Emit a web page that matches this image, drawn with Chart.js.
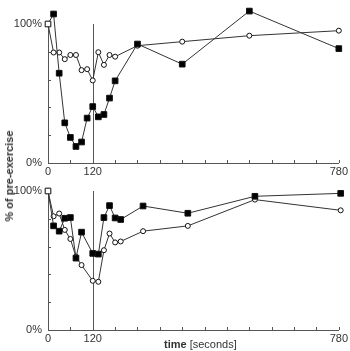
<!DOCTYPE html>
<html>
<head>
<meta charset="utf-8">
<script src="https://cdn.jsdelivr.net/npm/chart.js@4"></script>
<style>
    body { margin: 0; background: #fff; }
    #wrap { position: relative; width: 350px; height: 351px; font-family: 'Liberation Sans', Arial, sans-serif; color: #333; }
    canvas { position: absolute; left: 0; }
    #topChart { top: 0; }
    #bottomChart { top: 167px; }
    #yTitle { position: absolute; left: 9px; top: 176px; transform: translate(-50%, -50%) rotate(-90deg); white-space: nowrap; font-size: 11px; font-weight: bold; }
    #xTitle { position: absolute; left: 164px; top: 338px; white-space: nowrap; font-size: 11px; }
</style>
</head>
<body>
<div id="wrap">
    <canvas id="topChart" width="350" height="180"></canvas>
    <canvas id="bottomChart" width="350" height="180"></canvas>
    <div id="yTitle">% of pre-exercise</div>
    <div id="xTitle"><b>time</b> [seconds]</div>
</div>
<script>
// Top panel
const topTimes = [0, 15, 30, 45, 60, 75, 90, 105, 120, 135, 150, 165, 180, 240, 360, 540, 780];
const topSquares = [100, 107.2, 64.6, 28.9, 18.4, 11.9, 15.1, 32.3, 40.6, 33.2, 34.9, 46.7, 59.1, 85.6, 71.1, 109.3, 82.3];
const topCircles = [100, 79.5, 79.5, 74.7, 77.7, 77.7, 66.8, 67.5, 59.4, 79.7, 70.6, 77.7, 76.5, 84.4, 87.3, 91.6, 95.2];

// Bottom panel
const bottomTimes = [0, 15, 30, 45, 60, 75, 90, 120, 135, 150, 165, 180, 195, 255, 375, 555, 785];
const bottomSquares = [100, 74.9, 71.1, 80.4, 80.9, 51.7, 70.4, 55.1, 54.6, 80.9, 89.5, 80.6, 79.5, 89.2, 84, 96.2, 98.3];
const bottomCircles = [100, 81.8, 83.8, 72, 65.5, 52.8, 46.7, 35.4, 34.7, 57.4, 69.4, 63, 63.7, 71.1, 74.9, 93.8, 86.1];

// Axis ticks
const xLabels = [0, 120, 780];
const yLabels = [0, 100];
const exerciseEnd = 120;

const axisColor = '#555';
const lineColor = '#333';
const labelFont = "11px 'Liberation Sans', Arial, sans-serif";
const top100 = 24; // where the 100% line should sit in each canvas

// y axis line + labels, inward tick marks and the vertical line at end of exercise
const innerTicks = {
    id: 'innerTicks',
    beforeDatasetsDraw(chart) {
        const { ctx, chartArea, scales: { x, y } } = chart;
        const top = y.getPixelForValue(100);
        const bottom = y.getPixelForValue(0);
        ctx.save();
        ctx.strokeStyle = axisColor;
        ctx.lineWidth = 1;
        ctx.beginPath();
        const ax = Math.round(chartArea.left) + 0.5;
        ctx.moveTo(ax, top);
        ctx.lineTo(ax, bottom);
        x.ticks.forEach(t => {
            const px = Math.round(x.getPixelForValue(t.value)) + 0.5;
            ctx.moveTo(px, bottom);
            ctx.lineTo(px, bottom - 3);
        });
        y.ticks.forEach(t => {
            if (t.value > 100) return;
            const py = Math.round(y.getPixelForValue(t.value)) + 0.5;
            ctx.moveTo(chartArea.left, py);
            ctx.lineTo(chartArea.left + 3, py);
        });
        const mx = Math.round(x.getPixelForValue(exerciseEnd)) + 0.5;
        ctx.moveTo(mx, top);
        ctx.lineTo(mx, bottom);
        ctx.stroke();

        ctx.fillStyle = '#333';
        ctx.font = labelFont;
        ctx.textAlign = 'right';
        ctx.textBaseline = 'middle';
        yLabels.forEach(v => {
            ctx.fillText(v + '%', chartArea.left - 6, y.getPixelForValue(v));
        });
        ctx.restore();
    }
};

function toPoints(times, values) {
    return times.map((t, i) => ({ x: t, y: values[i] }));
}

function makeChart(canvasId, times, squares, circles) {
    const ctx = document.getElementById(canvasId).getContext('2d');
    const font = { family: "'Liberation Sans', Arial, sans-serif", size: 11 };
    const chart = new Chart(ctx, {
        type: 'line',
        data: {
            datasets: [{
                label: 'circles',
                data: toPoints(times, circles),
                borderColor: lineColor,
                borderWidth: 1,
                pointStyle: 'circle',
                pointRadius: 2.5,
                pointBorderWidth: 1,
                pointBorderColor: '#111',
                pointBackgroundColor: '#fff',
                clip: false,
                order: 2
            }, {
                label: 'squares',
                data: toPoints(times, squares),
                borderColor: lineColor,
                borderWidth: 1,
                pointStyle: 'rect',
                pointRadius: 4,
                pointBorderWidth: 1,
                pointBorderColor: '#111',
                pointBackgroundColor: times.map((t, i) => i === 0 ? '#fff' : '#000'),
                clip: false,
                order: 1
            }]
        },
        options: {
            responsive: false,
            animation: false,
            devicePixelRatio: 1,
            layout: { padding: { top: 7, right: 11, left: 0, bottom: 0 } },
            plugins: {
                legend: { display: false },
                tooltip: { enabled: false }
            },
            scales: {
                x: {
                    type: 'linear',
                    min: 0,
                    max: 780,
                    grid: { drawOnChartArea: false, drawTicks: false },
                    border: { display: true, color: axisColor, width: 1 },
                    ticks: {
                        stepSize: 60,
                        autoSkip: false,
                        maxRotation: 0,
                        padding: 2,
                        color: '#333',
                        font: font,
                        callback: value => xLabels.includes(value) ? String(value) : ''
                    },
                    afterFit: scale => { scale.height = 17; }
                },
                y: {
                    min: 0,
                    max: 112,
                    grid: { display: false },
                    border: { display: false },
                    ticks: { stepSize: 20, display: false },
                    afterFit: scale => { scale.width = 48; }
                }
            }
        },
        plugins: [innerTicks]
    });

    // nudge the top padding so the 100% line lands where the reference has it
    const cfg = chart.config.options;
    for (let i = 0; i < 4; i++) {
        const off = chart.scales.y.getPixelForValue(100) - top100;
        if (Math.abs(off) < 0.2) break;
        const pad = cfg.layout.padding;
        cfg.layout.padding = { top: Math.max(0, pad.top - off * 112 / 100), right: 11, left: 0, bottom: 0 };
        chart.update();
    }
    return chart;
}

makeChart('topChart', topTimes, topSquares, topCircles);
makeChart('bottomChart', bottomTimes, bottomSquares, bottomCircles);
</script>
</body>
</html>
